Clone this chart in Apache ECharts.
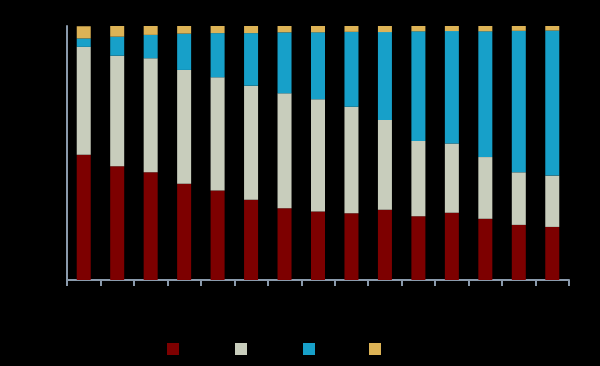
<!DOCTYPE html>
<html>
<head>
<meta charset="utf-8">
<script src="https://cdn.jsdelivr.net/npm/echarts@6/dist/echarts.min.js"></script>
<style>html,body{margin:0;padding:0;background:#000;}#c{width:600px;height:366px;}</style>
</head>
<body>
<div id="c"></div>
<script>
const categories = ['1','2','3','4','5','6','7','8','9','10','11','12','13','14','15'];
const seriesNames = ['Series 1','Series 2','Series 3','Series 4'];
const s1 = [49.3,44.8,42.4,37.9,35.2,31.6,28.2,27.0,26.3,27.7,25.1,26.5,24.1,21.7,20.9];
const s2 = [42.5,43.5,44.9,44.8,44.6,44.9,45.3,44.2,41.9,35.3,29.6,27.2,24.3,20.7,20.2];
const s3 = [3.3,7.5,9.2,14.3,17.4,20.7,24.0,26.3,29.5,34.6,43.2,44.3,49.5,55.7,57.1];
const s4 = [4.8,4.2,3.5,3.0,2.8,2.8,2.5,2.5,2.4,2.4,2.1,2.1,2.1,1.9,1.9];
const colors = ['#7d0000','#c8cdbc','#17a0c9','#ddb356'];
const values = [s1,s2,s3,s4];
const legendLeft = [162,230,298,364];

const chart = echarts.init(document.getElementById('c'));
chart.setOption({
  backgroundColor:'#000',
  animation:false,
  grid:{left:67,right:31,top:26,bottom:86},
  legend: seriesNames.map((n,i)=>({
    data:[n], left:legendLeft[i], top:338, itemWidth:12, itemHeight:12,
    icon:'rect', textStyle:{color:'#000',fontSize:11}
  })),
  xAxis:{
    type:'category', data:categories,
    axisLine:{lineStyle:{color:'#8a9aac',width:2}},
    axisTick:{show:true,length:6,lineStyle:{color:'#8a9aac',width:2}},
    axisLabel:{color:'#000'}
  },
  yAxis:{
    type:'value', min:0, max:100, interval:20,
    axisLine:{show:true,lineStyle:{color:'#8a9aac',width:2}},
    axisTick:{show:false},
    splitLine:{show:false},
    axisLabel:{color:'#000'}
  },
  series: values.map((v,i)=>({
    name:seriesNames[i], type:'bar', stack:'total', data:v, barWidth:14,
    itemStyle:{color:colors[i]}
  }))
});
</script>
</body>
</html>
